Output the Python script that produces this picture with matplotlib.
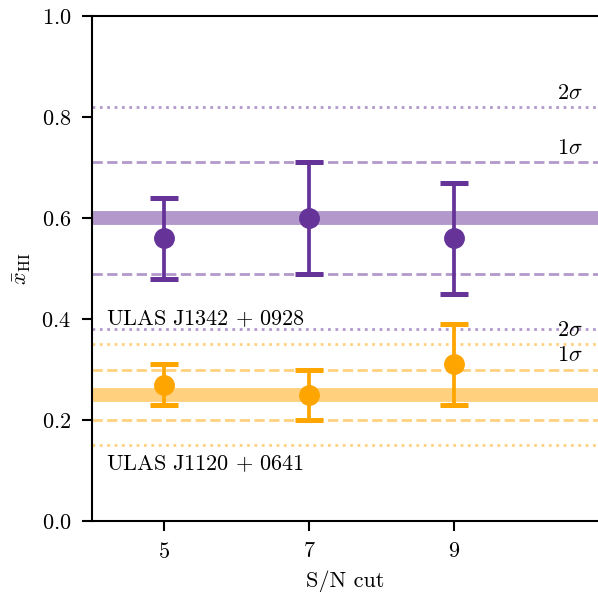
import numpy as np
import matplotlib
matplotlib.use("Agg")
import matplotlib.pyplot as plt

plt.rcParams["font.family"] = "serif"
plt.rcParams["font.serif"] = ["cmr10", "DejaVu Serif"]
plt.rcParams["mathtext.fontset"] = "cm"
plt.rcParams["axes.formatter.use_mathtext"] = True
plt.rcParams["axes.unicode_minus"] = False

# S/N cuts
sn_cut = [5, 7, 9]

# ULAS J1342+0928 (purple)
j1342_x = [0.56, 0.60, 0.56]
j1342_hi = [0.64, 0.71, 0.67]
j1342_lo = [0.48, 0.49, 0.45]
j1342_mean = 0.60
j1342_1sig = [0.49, 0.71]
j1342_2sig = [0.38, 0.82]

# ULAS J1120+0641 (orange)
j1120_x = [0.27, 0.25, 0.31]
j1120_hi = [0.31, 0.30, 0.39]
j1120_lo = [0.23, 0.20, 0.23]
j1120_mean = 0.25
j1120_1sig = [0.20, 0.30]
j1120_2sig = [0.15, 0.35]

purple = "rebeccapurple"
orange = "orange"
fs = 16

fig = plt.figure(figsize=(5.98, 5.92), dpi=100)
ax = fig.add_axes([92 / 598, 71 / 592, 507 / 598, 505 / 592])


def draw_quasar(ax, x, y, hi, lo, mean, sig1, sig2, color):
    ax.axhline(mean, color=color, alpha=0.5, lw=10, zorder=1)
    for v in sig1:
        ax.axhline(v, color=color, alpha=0.5, lw=2, ls="--", zorder=1)
    for v in sig2:
        ax.axhline(v, color=color, alpha=0.5, lw=2, ls=":", zorder=1)
    y = np.asarray(y)
    yerr = [y - np.asarray(lo), np.asarray(hi) - y]
    ax.errorbar(x, y, yerr=yerr, fmt="o", color=color, ms=14, lw=2.7,
                capsize=10, capthick=3.6, zorder=3)
    ax.text(10.77, sig1[1] + 0.008, r"$1\sigma$", ha="right", va="bottom", fontsize=fs)
    ax.text(10.77, sig2[1] + 0.008, r"$2\sigma$", ha="right", va="bottom", fontsize=fs)


draw_quasar(ax, sn_cut, j1342_x, j1342_hi, j1342_lo, j1342_mean,
            j1342_1sig, j1342_2sig, purple)
draw_quasar(ax, sn_cut, j1120_x, j1120_hi, j1120_lo, j1120_mean,
            j1120_1sig, j1120_2sig, orange)

ax.text(4.2, 0.388, r"$\rm ULAS\ J1342\,+\,0928$", ha="left", va="baseline", fontsize=fs)
ax.text(4.2, 0.101, r"$\rm ULAS\ J1120\,+\,0641$", ha="left", va="baseline", fontsize=fs)

ax.set_xlim(4, 11)
ax.set_ylim(0, 1)
ax.set_xticks(sn_cut)
ax.set_yticks([0.0, 0.2, 0.4, 0.6, 0.8, 1.0])
ax.set_xlabel("S/N cut", fontsize=fs, labelpad=6)
ax.set_ylabel(r"$\bar{x}_{\rm HI}$", fontsize=fs, labelpad=6)
ax.tick_params(labelsize=fs, width=1.5, length=7, pad=8)
for s in ax.spines.values():
    s.set_linewidth(1.5)
ax.spines["right"].set_visible(False)

fig.savefig("out.png", dpi=100)
